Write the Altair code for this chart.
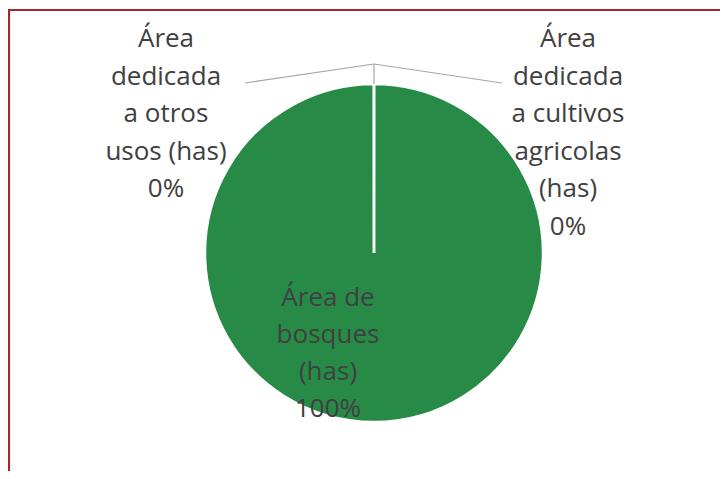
import altair as alt
import pandas as pd

# ---- data ----
categories = ["Área dedicada a cultivos agricolas (has)", "Área de bosques (has)", "Área dedicada a otros usos (has)"]
values = [0.01, 99.98, 0.01]
order_idx = [0, 1, 2]

label_texts = ["Área\ndedicada\na otros\nusos (has)\n0%",
               "Área\ndedicada\na cultivos\nagricolas\n(has)\n0%"]
label_x = [166, 568]
label_y = [39, 39]

inner_text = ["Área de\nbosques\n(has)\n100%"]
inner_x = [328]
inner_y = [298]

# leader lines (page coords)
leader_id = ["l", "l", "r", "r", "s", "s"]
leader_x = [245, 374, 502, 374, 374, 374]
leader_y = [83, 64, 83, 64, 64, 84]
leader_ord = [0, 1, 0, 1, 0, 1]

GREEN = "#278a47"
BORDER = "#a3272b"
W, H = 712, 463
CX, CY, R = 374 - 8, 253 - 8, 169

xs = alt.Scale(domain=[8, 8 + W], nice=False, zero=False)
ys = alt.Scale(domain=[8, 8 + H], nice=False, zero=False, reverse=True)

pie_df = pd.DataFrame({"cat": categories, "value": values, "idx": order_idx})
lab_df = pd.DataFrame({"t": label_texts, "x": label_x, "y": label_y})
in_df = pd.DataFrame({"t": inner_text, "x": inner_x, "y": inner_y})
lead_df = pd.DataFrame({"id": leader_id, "x": leader_x, "y": leader_y, "o": leader_ord})
border_df = pd.DataFrame({"x": [9, 9, 740], "y": [490, 10, 10], "o": [0, 1, 2]})

pie = alt.Chart(pie_df).mark_arc(radius=R, stroke="white", strokeWidth=2.5).encode(
    theta=alt.Theta("value:Q", stack=True),
    order=alt.Order("idx:O"),
    color=alt.value(GREEN),
    x=alt.value(CX),
    y=alt.value(CY),
)

leaders = alt.Chart(lead_df).mark_line(color="#a6a6a6", strokeWidth=1.2).encode(
    x=alt.X("x:Q", scale=xs, axis=None),
    y=alt.Y("y:Q", scale=ys, axis=None),
    detail="id:N",
    order="o:Q",
)

border = alt.Chart(border_df).mark_line(color=BORDER, strokeWidth=2.2).encode(
    x=alt.X("x:Q", scale=xs, axis=None),
    y=alt.Y("y:Q", scale=ys, axis=None),
    order="o:Q",
)

labels = alt.Chart(lab_df).mark_text(
    align="center", baseline="middle", lineBreak="\n", lineHeight=37.5,
    fontSize=26, font="Open Sans", color="#404040",
).encode(
    x=alt.X("x:Q", scale=xs, axis=None),
    y=alt.Y("y:Q", scale=ys, axis=None),
    text="t:N",
)

inner = alt.Chart(in_df).mark_text(
    align="center", baseline="middle", lineBreak="\n", lineHeight=37,
    fontSize=26, font="Open Sans", color="#404040",
).encode(
    x=alt.X("x:Q", scale=xs, axis=None),
    y=alt.Y("y:Q", scale=ys, axis=None),
    text="t:N",
)

chart = alt.layer(pie, leaders, border, labels, inner).properties(
    width=W, height=H, padding=0,
    autosize=alt.AutoSizeParams(type="none"),
).configure(background="white", view=alt.ViewConfig(stroke=None))

chart.save("out.html", embed_options={"renderer": "svg", "actions": False})
